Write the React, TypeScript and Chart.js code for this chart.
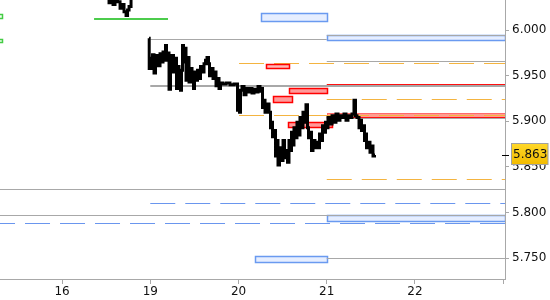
import React, { useEffect, useRef } from 'react';
import { Chart, registerables } from 'chart.js';

Chart.register(...registerables);

const X_MIN = -0.703;
const X_MAX = 5.02;
const Y_MIN = 5.727;
const Y_MAX = 6.033;

// x axis: trading-day index (16, 19, 20, 21, 22)
const xTickValues = [0, 1, 2, 3, 4, 5];
const xTickLabels = ['16', '19', '20', '21', '22', ''];
const yTickValues = [5.75, 5.8, 5.85, 5.9, 5.95, 6.0];

// price, session of the 16th (mostly above the visible range)
const session16Times = [0.476, 0.521, 0.544, 0.567, 0.589, 0.612, 0.646, 0.669, 0.691, 0.714, 0.737, 0.748, 0.771, 0.793, 0.816];
const session16Prices = [6.055, 6.038, 6.030, 6.033, 6.028, 6.035, 6.031, 6.024, 6.028, 6.020, 6.016, 6.022, 6.026, 6.036, 6.055];

// price, sessions of the 19th, 20th and 21st
const sessionTimes = [
  0.986, 0.990, 1.008, 1.020, 1.031, 1.054, 1.065, 1.088, 1.099, 1.122, 1.133, 1.156, 1.167, 1.178, 1.190, 1.201,
  1.224, 1.235, 1.258, 1.269, 1.292, 1.303, 1.314, 1.337, 1.348, 1.360, 1.371, 1.382, 1.394, 1.416, 1.428, 1.450,
  1.462, 1.484, 1.496, 1.507, 1.530, 1.541, 1.564, 1.575, 1.598, 1.620, 1.632, 1.654, 1.666, 1.677, 1.700, 1.722,
  1.734, 1.756, 1.768, 1.790, 1.802, 1.836, 1.881, 1.926, 1.972,
  1.983, 1.994, 2.006, 2.017, 2.028, 2.051, 2.074, 2.096, 2.119, 2.142, 2.164, 2.187, 2.210, 2.232, 2.255, 2.266,
  2.278, 2.289, 2.312, 2.334, 2.357, 2.368, 2.380, 2.391, 2.414, 2.425, 2.436, 2.459, 2.470, 2.493, 2.516, 2.527,
  2.550, 2.561, 2.583, 2.595, 2.606, 2.617, 2.640, 2.651, 2.674, 2.685, 2.708, 2.719, 2.742, 2.753, 2.776, 2.787,
  2.799, 2.821, 2.833, 2.855, 2.878, 2.889, 2.912, 2.923, 2.946, 2.957, 2.980, 2.991,
  3.003, 3.025, 3.048, 3.071, 3.093, 3.116, 3.139, 3.161, 3.184, 3.207, 3.229, 3.252, 3.275, 3.297, 3.320, 3.331,
  3.354, 3.377, 3.388, 3.399, 3.422, 3.433, 3.445, 3.456, 3.479, 3.501, 3.513, 3.535, 3.547,
];
const sessionPrices = [
  5.991, 5.958, 5.969, 5.958, 5.973, 5.953, 5.967, 5.972, 5.961, 5.974, 5.965, 5.976, 5.967, 5.983, 5.967, 5.975,
  5.935, 5.965, 5.972, 5.954, 5.969, 5.936, 5.960, 5.952, 5.934, 5.956, 5.983, 5.965, 5.980, 5.945, 5.970, 5.943,
  5.958, 5.951, 5.936, 5.954, 5.945, 5.956, 5.947, 5.960, 5.954, 5.963, 5.967, 5.970, 5.963, 5.950, 5.958, 5.947,
  5.954, 5.939, 5.947, 5.936, 5.942, 5.941, 5.942, 5.940, 5.941,
  5.941, 5.912, 5.932, 5.910, 5.934, 5.938, 5.929, 5.936, 5.932, 5.936, 5.931, 5.935, 5.932, 5.938, 5.933, 5.936,
  5.915, 5.923, 5.910, 5.919, 5.910, 5.893, 5.899, 5.883, 5.890, 5.862, 5.879, 5.852, 5.871, 5.857, 5.879, 5.860,
  5.868, 5.855, 5.879, 5.868, 5.888, 5.874, 5.893, 5.882, 5.899, 5.885, 5.904, 5.893, 5.910, 5.899, 5.918, 5.893,
  5.882, 5.888, 5.868, 5.879, 5.871, 5.877, 5.871, 5.886, 5.879, 5.895, 5.888, 5.899,
  5.893, 5.904, 5.897, 5.906, 5.899, 5.908, 5.901, 5.906, 5.904, 5.908, 5.901, 5.906, 5.904, 5.908, 5.923, 5.906,
  5.904, 5.893, 5.901, 5.890, 5.895, 5.879, 5.886, 5.871, 5.877, 5.866, 5.873, 5.862, 5.863,
];
const lastPrice = 5.863;

// horizontal levels: [price, from, to]
const grayLevels = [
  [5.9898, 1.0, 3.0], [5.9951, 3.0, X_MAX], [5.9663, 3.0, X_MAX], [5.9035, 3.0, X_MAX],
  [5.8253, X_MIN, X_MAX], [5.7968, X_MIN, X_MAX], [5.7497, 3.0, X_MAX],
];
const grayThickLevels = [[5.9387, 1.0, X_MAX]];
const greenLevels = [[6.0117, 0.363, 1.201]];
const redLevels = [[5.9405, 3.0, X_MAX], [5.905, 3.0, X_MAX]];
const orangeDashedLevels = [[5.9638, 2.006, X_MAX], [5.924, 3.0, X_MAX], [5.9072, 2.006, X_MAX], [5.8363, 3.0, X_MAX]];
const blueDashedLevels = [[5.8106, 1.0, X_MAX], [5.7887, -0.816, X_MAX]];

// zones: [from, to, high, low]
const blueZones = [
  [2.255, 3.003, 6.0183, 6.0102], [3.0, X_MAX, 5.9951, 5.989],
  [2.187, 3.0, 5.7522, 5.7459], [3.0, X_MAX, 5.7971, 5.7906],
];
const redZones = [[2.572, 3.003, 5.9361, 5.9306], [2.391, 2.606, 5.9276, 5.9214], [2.561, 3.06, 5.8991, 5.894]];
const paleRedZones = [[2.312, 2.572, 5.9627, 5.958]];
const bandZones = [[3.0, X_MAX, 5.9094, 5.9046]];
const greenZones = [[-0.78, -0.683, 6.0175, 6.0128], [-0.78, -0.683, 5.9898, 5.9872]];

const FONT = { family: '"DejaVu Sans", Verdana, sans-serif', size: 12 };
const GRAY = '#a8a8a8';

const levelsPlugin = {
  id: 'levels',
  beforeDatasetsDraw(chart: any) {
    const { ctx, chartArea, scales } = chart;
    const x = scales.x;
    const y = scales.y;
    ctx.save();
    ctx.beginPath();
    ctx.rect(chartArea.left, chartArea.top, chartArea.right - chartArea.left, chartArea.bottom - chartArea.top);
    ctx.clip();

    const zone = (list: number[][], fill: string, stroke: string, lw: number) => {
      list.forEach(([a, b, hi, lo]) => {
        const x0 = Math.round(x.getPixelForValue(a)) + 0.5;
        const x1 = Math.round(x.getPixelForValue(b)) + 0.5;
        const y0 = Math.round(y.getPixelForValue(hi)) + 0.5;
        const y1 = Math.round(y.getPixelForValue(lo)) + 0.5;
        ctx.setLineDash([]);
        ctx.fillStyle = fill;
        ctx.fillRect(x0, y0, x1 - x0, y1 - y0);
        ctx.strokeStyle = stroke;
        ctx.lineWidth = lw;
        ctx.strokeRect(x0, y0, x1 - x0, y1 - y0);
      });
    };
    const level = (list: number[][], color: string, lw: number, dash: number[]) => {
      list.forEach(([p, a, b]) => {
        const py = Math.round(y.getPixelForValue(p)) + (lw % 2 === 1 ? 0.5 : 0);
        ctx.beginPath();
        ctx.setLineDash(dash);
        ctx.moveTo(x.getPixelForValue(a), py);
        ctx.lineTo(x.getPixelForValue(b), py);
        ctx.strokeStyle = color;
        ctx.lineWidth = lw;
        ctx.stroke();
      });
    };

    zone(blueZones, '#e6eeff', '#6a9af0', 1.5);
    zone(greenZones, '#f4fff4', '#44cc44', 1.5);
    zone(bandZones, '#ff9c90', '#ff6a6a', 1);
    level(grayLevels, GRAY, 1, []);
    level(grayThickLevels, GRAY, 2, []);
    level(greenLevels, '#4ccc4c', 2, []);
    level(redLevels, '#ff1010', 1, []);
    level(orangeDashedLevels, '#f4b440', 1, [25, 10]);
    level(blueDashedLevels, '#6a96ee', 1, [25, 10]);
    zone(paleRedZones, '#ffb8b8', '#ff0000', 1.5);
    zone(redZones, '#ff9a9a', '#ff0000', 1.5);
    ctx.restore();
  },
};

const priceTagPlugin = {
  id: 'priceTag',
  afterDraw(chart: any) {
    const { ctx, chartArea, scales } = chart;
    const py = Math.round(scales.y.getPixelForValue(lastPrice));
    ctx.save();
    ctx.setLineDash([]);
    ctx.strokeStyle = '#000';
    ctx.lineWidth = 1;
    ctx.beginPath();
    ctx.moveTo(chartArea.right - 3, py + 0.5);
    ctx.lineTo(chartArea.right + 4, py + 0.5);
    ctx.stroke();

    const bx = chartArea.right + 6.5;
    const by = py - 11.5;
    const bw = 36.5;
    const bh = 21;
    const grad = ctx.createLinearGradient(0, by, 0, by + bh);
    grad.addColorStop(0, '#ffd829');
    grad.addColorStop(1, '#f2bb00');
    ctx.fillStyle = grad;
    ctx.fillRect(bx, by, bw, bh);
    ctx.strokeStyle = '#a0a0a0';
    ctx.strokeRect(bx, by, bw, bh);
    ctx.fillStyle = '#111';
    ctx.font = `${FONT.size}px ${FONT.family}`;
    ctx.textBaseline = 'middle';
    ctx.textAlign = 'left';
    ctx.fillText(lastPrice.toFixed(3), bx + 1.5, py);
    ctx.restore();
  },
};

export default function App() {
  const canvasRef = useRef<HTMLCanvasElement | null>(null);

  useEffect(() => {
    if (!canvasRef.current) return;
    const priceStyle = {
      borderColor: '#000',
      borderWidth: 3,
      pointRadius: 0,
      tension: 0,
      stepped: 'middle' as const,
      borderJoinStyle: 'miter' as const,
      borderCapStyle: 'butt' as const,
    };
    const chart = new Chart(canvasRef.current, {
      type: 'line',
      data: {
        datasets: [
          { data: session16Times.map((t, i) => ({ x: t, y: session16Prices[i] })), ...priceStyle },
          { data: sessionTimes.map((t, i) => ({ x: t, y: sessionPrices[i] })), ...priceStyle },
        ],
      },
      options: {
        animation: false,
        responsive: false,
        events: [],
        layout: { padding: 0 },
        plugins: { legend: { display: false }, tooltip: { enabled: false } },
        scales: {
          x: {
            type: 'linear',
            min: X_MIN,
            max: X_MAX,
            afterBuildTicks: (s: any) => {
              s.ticks = xTickValues.map((v) => ({ value: v }));
            },
            afterFit: (s: any) => {
              s.height = 21;
              s.paddingLeft = 0;
              s.paddingRight = 0;
            },
            ticks: {
              autoSkip: false,
              maxRotation: 0,
              padding: 1,
              color: '#111',
              font: FONT,
              callback: (v: any) => {
                const i = xTickValues.indexOf(Number(v));
                return i >= 0 ? xTickLabels[i] : '';
              },
            },
            grid: { drawOnChartArea: false, drawTicks: true, tickLength: 5, color: GRAY },
            border: { display: true, color: GRAY },
          },
          y: {
            type: 'linear',
            position: 'right',
            min: Y_MIN,
            max: Y_MAX,
            afterBuildTicks: (s: any) => {
              s.ticks = yTickValues.map((v) => ({ value: v }));
            },
            afterFit: (s: any) => {
              s.width = 45;
              s.paddingTop = 0;
              s.paddingBottom = 0;
            },
            ticks: {
              autoSkip: false,
              padding: 3,
              color: '#111',
              font: FONT,
              callback: (v: any) => Number(v).toFixed(3),
            },
            grid: { drawOnChartArea: false, drawTicks: true, tickLength: 4, color: GRAY },
            border: { display: true, color: GRAY },
          },
        },
      },
      plugins: [levelsPlugin, priceTagPlugin],
    });
    return () => chart.destroy();
  }, []);

  return (
    <div style={{ position: 'fixed', left: 0, top: 0, width: 550, height: 300, background: '#fff' }}>
      <canvas ref={canvasRef} width={550} height={300} />
    </div>
  );
}
